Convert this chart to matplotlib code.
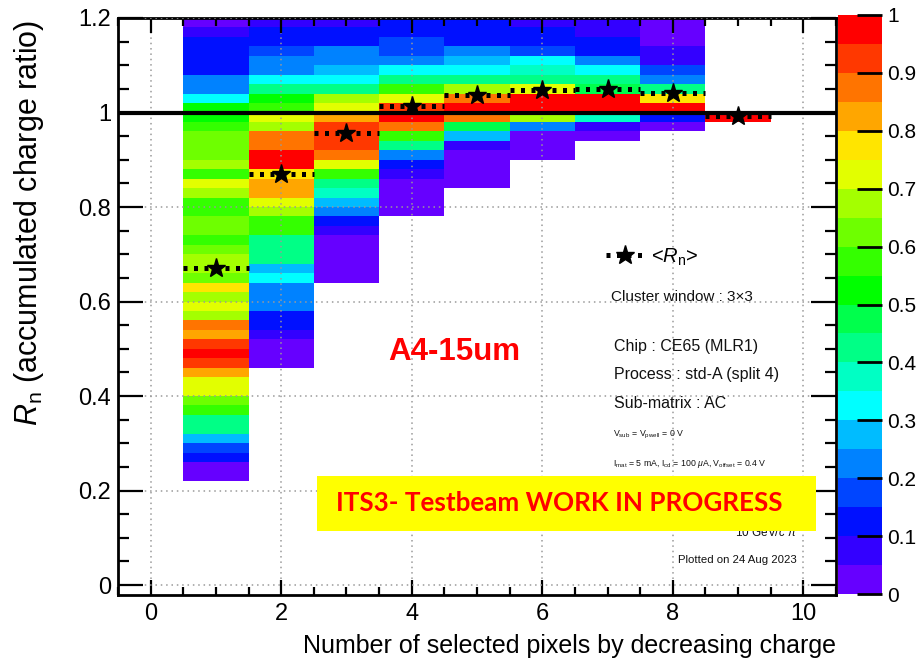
import numpy as np
import matplotlib
matplotlib.use("Agg")
import matplotlib.pyplot as plt
from matplotlib.colors import ListedColormap
from matplotlib.lines import Line2D
from matplotlib.patches import Rectangle
from matplotlib.ticker import MultipleLocator, FuncFormatter

plt.rcParams['font.family'] = ['Liberation Sans', 'DejaVu Sans']
plt.rcParams['mathtext.fontset'] = 'custom'
plt.rcParams['mathtext.rm'] = 'Liberation Sans'
plt.rcParams['mathtext.it'] = 'Liberation Sans:italic'
plt.rcParams['mathtext.bf'] = 'Liberation Sans:bold'

# ---------------- data ----------------
n_pixels = [1, 2, 3, 4, 5, 6, 7, 8, 9]
y_bin = 0.02
y_max = 1.2
col_bottom = [0.22, 0.46, 0.64, 0.78, 0.84, 0.90, 0.94, 0.96, 0.98]

# fraction per cell (colour-bar value), listed from the bottom bin upwards
col1 = [0.02, 0.02, 0.12, 0.17, 0.27, 0.42, 0.42, 0.57, 0.62, 0.72,
        0.72, 0.82, 0.92, 0.97, 0.92, 0.82, 0.87, 0.67, 0.72, 0.67,
        0.77, 0.62, 0.67, 0.67, 0.62, 0.57, 0.62, 0.62, 0.57, 0.57,
        0.67, 0.72, 0.57, 0.67, 0.62, 0.62, 0.62, 0.57, 0.52, 0.52,
        0.32, 0.22, 0.22, 0.12, 0.12, 0.12, 0.12, 0.07, 0.02]
col2 = [0.02, 0.02, 0.02, 0.07, 0.12, 0.12, 0.22, 0.22, 0.22, 0.32,
        0.27, 0.42, 0.42, 0.42, 0.57, 0.57, 0.67, 0.72, 0.82, 0.82,
        0.77, 0.97, 0.97, 0.87, 0.87, 0.67, 0.72, 0.57, 0.52, 0.42,
        0.32, 0.22, 0.22, 0.17, 0.12, 0.12, 0.07]
col3 = [0.02, 0.02, 0.02, 0.02, 0.02, 0.07, 0.12, 0.22, 0.27, 0.37,
        0.42, 0.57, 0.72, 0.87, 0.92, 0.92, 0.92, 0.82, 0.72, 0.67,
        0.42, 0.32, 0.27, 0.22, 0.22, 0.12, 0.12, 0.07]
col4 = [0.02, 0.02, 0.02, 0.02, 0.07, 0.12, 0.22, 0.42, 0.57, 0.87,
        0.97, 0.92, 0.72, 0.57, 0.42, 0.32, 0.22, 0.17, 0.17, 0.12, 0.12]
col5 = [0.02, 0.02, 0.02, 0.02, 0.07, 0.27, 0.47, 0.87, 0.97, 0.87,
        0.67, 0.42, 0.32, 0.27, 0.22, 0.12, 0.12, 0.12]
col6 = [0.02, 0.02, 0.02, 0.22, 0.67, 0.97, 0.97, 0.72, 0.42, 0.37,
        0.32, 0.17, 0.12, 0.12, 0.07]
col7 = [0.02, 0.07, 0.37, 0.97, 0.97, 0.47, 0.42, 0.32, 0.22, 0.12,
        0.12, 0.07, 0.07]
col8 = [0.02, 0.12, 0.97, 0.77, 0.42, 0.22, 0.17, 0.07, 0.07, 0.02,
        0.02, 0.02]
col9 = [0.97]
columns = [col1, col2, col3, col4, col5, col6, col7, col8, col9]

mean_ratio = [0.671, 0.869, 0.956, 1.013, 1.036, 1.047, 1.049, 1.041, 0.992]

palette = ['#6600ff', '#3300ff', '#0010ff', '#0045ff', '#0082ff',
           '#00bcff', '#00ffff', '#00ffc4', '#00ff86', '#00ff4c',
           '#00ff00', '#34ff00', '#6eff00', '#a4ff00', '#e2ff00',
           '#ffe500', '#ffa600', '#ff7400', '#ff3800', '#ff0000']

# ---------------- figure ----------------
W, H = 920, 667
fig = plt.figure(figsize=(W / 100, H / 100), dpi=100)

def fx(px):
    return px / W

def fy(py):
    return 1 - py / H

ax = fig.add_axes([fx(118), fy(594.5), fx(836) - fx(118), fy(18) - fy(594.5)])

cmap = ListedColormap(palette)
x_edges = np.arange(0.5, 10.0, 1.0)
y_edges = np.linspace(0, y_max, int(round(y_max / y_bin)) + 1)
Z = np.full((len(y_edges) - 1, len(n_pixels)), np.nan)
for j, (b, vals) in enumerate(zip(col_bottom, columns)):
    i0 = int(round(b / y_bin))
    Z[i0:i0 + len(vals), j] = vals
mesh = ax.pcolormesh(x_edges, y_edges, np.ma.masked_invalid(Z), cmap=cmap,
                     vmin=0, vmax=1, antialiased=False, linewidth=0, zorder=1)

ax.set_xlim(-0.5, 10.5)
ax.set_ylim(-0.02, 1.2)

ax.set_axisbelow(False)
ax.grid(True, which='major', color='#9a9a9a', linestyle=(0, (1, 2.5)), linewidth=1.1)

ax.axhline(1.0, color='black', lw=3.0, zorder=3)

x = np.array(n_pixels, dtype=float)
ax.hlines(mean_ratio, x - 0.5, x + 0.5, colors='black', linewidth=3.6,
          linestyles=[(0, (0.8, 1.3))], zorder=4)
ax.plot(x, mean_ratio, linestyle='none', marker='*', color='black', markersize=14, zorder=5)

ax.xaxis.set_major_locator(MultipleLocator(2))
ax.xaxis.set_minor_locator(MultipleLocator(0.5))
ax.yaxis.set_major_locator(MultipleLocator(0.2))
ax.yaxis.set_minor_locator(MultipleLocator(0.05))
ax.yaxis.set_major_formatter(FuncFormatter(lambda v, p: '%g' % round(v, 3)))
ax.xaxis.set_major_formatter(FuncFormatter(lambda v, p: '%g' % round(v, 3)))

ax.tick_params(axis='both', which='both', direction='in', top=True, right=True,
               labelsize=17, width=1.6, color='black')
ax.tick_params(axis='x', which='major', length=11, pad=6)
ax.tick_params(axis='x', which='minor', length=5.5)
ax.tick_params(axis='y', which='major', length=18, pad=5)
ax.tick_params(axis='y', which='minor', length=8)
for s in ax.spines.values():
    s.set_linewidth(2.0)

ax.set_xlabel('Number of selected pixels by decreasing charge', fontsize=18, loc='right')
ax.xaxis.set_label_coords(1.0, -0.068)
ax.set_ylabel(r'$R_{\rm n}$ (accumulated charge ratio)', fontsize=22, loc='top')
ax.yaxis.set_label_coords(-0.1, 0.997)

# colour bar
cax = fig.add_axes([fx(838), fy(594), fx(882) - fx(838), fy(15) - fy(594)])
cb = fig.colorbar(mesh, cax=cax, ticks=np.arange(0, 1.001, 0.1))
cb.outline.set_visible(False)
cax.yaxis.set_major_formatter(FuncFormatter(lambda v, p: '%g' % round(v, 3)))
cax.tick_params(direction='in', length=18, width=2, labelsize=15, pad=4, right=True, left=False)

# legend
proxy = Line2D([], [], color='black', linewidth=3.6, linestyle=(0, (0.8, 1.3)),
               marker='*', markersize=14)
leg = fig.legend(handles=[proxy], labels=[r'<$R_{\rm n}$>'], loc='center left',
                 bbox_to_anchor=(fx(606), fy(257)), frameon=False, fontsize=14.5,
                 handlelength=1.9, handletextpad=0.35, borderpad=0, borderaxespad=0)

# info texts
t_kw = dict(ha='left', va='center', color='#111111')
fig.text(fx(611), fy(297), 'Cluster window : 3\u00d73', fontsize=11, **t_kw)
fig.text(fx(614), fy(346), 'Chip : CE65 (MLR1)', fontsize=11.5, **t_kw)
fig.text(fx(614), fy(375), 'Process : std-A (split 4)', fontsize=11.5, **t_kw)
fig.text(fx(614), fy(403), 'Sub-matrix : AC', fontsize=11.5, **t_kw)
fig.text(fx(613), fy(435), r'V$_{\rm sub}$ = V$_{\rm pwell}$ = 0 V', fontsize=6.3, **t_kw)
fig.text(fx(613), fy(463), r'I$_{\rm mat}$ = 5 mA, I$_{\rm cd}$ = 100 $\mu$A, V$_{\rm offset}$ = 0.4 V',
         fontsize=6.3, **t_kw)
fig.text(fx(797), fy(532), r'10 GeV/$c$ $\pi$', fontsize=8.5, ha='right', va='center', color='#111111')
fig.text(fx(797), fy(560), 'Plotted on 24 Aug 2023', fontsize=8.2, ha='right', va='center', color='#111111')

fig.text(fx(454), fy(352), 'A4-15um', fontsize=22.5, fontweight='bold', color='#ff0000',
         ha='center', va='center', family=['Liberation Sans', 'DejaVu Sans'])

fig.patches.append(Rectangle((fx(317), fy(531)), fx(816) - fx(317), fy(476) - fy(531),
                             transform=fig.transFigure, facecolor='#ffff00', edgecolor='none',
                             zorder=10))
fig.text(fx(559), fy(503), 'ITS3- Testbeam WORK IN PROGRESS', fontsize=18.7, fontweight='bold',
         color='#ff0000', ha='center', va='center', zorder=11,
         family=['Lato', 'Liberation Sans', 'DejaVu Sans'])

fig.savefig('out.png', dpi=100)
